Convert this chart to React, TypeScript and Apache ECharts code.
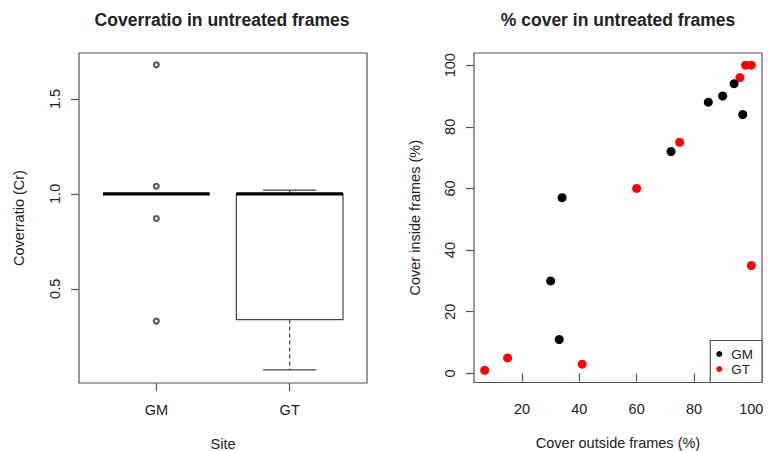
import React, { useEffect, useRef } from "react";
import * as echarts from "echarts";

// Boxplot panel (Coverratio)
const sites = ["GM", "GT"];
const sitePos = [1, 2];
const boxMin = [1.0, 0.073];
const boxQ1 = [1.0, 0.338];
const boxMedian = [1.0, 1.0];
const boxQ3 = [1.0, 1.0];
const boxMax = [1.0, 1.02];
const outlierSite = [1, 1, 1, 1];
const outlierValue = [1.68, 1.04, 0.87, 0.33];
const crTicks = [0.5, 1.0, 1.5];

// Scatter panel (% cover)
const gmOutside = [94, 85, 90, 97, 72, 34, 30, 33];
const gmInside = [94, 88, 90, 84, 72, 57, 30, 11];
const gtOutside = [98, 100, 96, 75, 60, 100, 15, 7, 41];
const gtInside = [100, 100, 96, 75, 60, 35, 5, 1, 3];
const outsideTicks = [20, 40, 60, 80, 100];
const insideTicks = [0, 20, 40, 60, 80, 100];

const FONT = "Liberation Sans, Arial, sans-serif";
const TXT = "#222";
const LINE = "#555";

export default function App() {
  const ref = useRef<HTMLDivElement>(null);
  useEffect(() => {
    if (!ref.current) return;
    const chart = echarts.init(ref.current, null, { renderer: "svg" });
    const axisLabelBase = { color: TXT, fontSize: 14.5, fontFamily: FONT };
    const nameBase = { color: TXT, fontSize: 14.5, fontFamily: FONT };
    const tick = { show: true, length: 8, inside: false, lineStyle: { color: LINE, width: 1.2 } };

    const option: any = {
      animation: false,
      backgroundColor: "#fff",
      textStyle: { fontFamily: FONT },
      title: [
        {
          text: "Coverratio in untreated frames",
          left: 222,
          textAlign: "center",
          top: 11,
          padding: 0,
          textStyle: { fontSize: 17.5, fontWeight: "bold", color: TXT, fontFamily: FONT },
        },
        {
          text: "% cover in untreated frames",
          left: 618,
          textAlign: "center",
          top: 11,
          padding: 0,
          textStyle: { fontSize: 17.5, fontWeight: "bold", color: TXT, fontFamily: FONT },
        },
      ],
      grid: [
        { left: 79, top: 53, width: 288, height: 330, outerBoundsMode: "none", containLabel: false, show: true, borderColor: LINE, borderWidth: 1.2, backgroundColor: "transparent" },
        { left: 474, top: 53, width: 288, height: 329.5, outerBoundsMode: "none", containLabel: false, show: true, borderColor: LINE, borderWidth: 1.2, backgroundColor: "transparent" },
      ],
      xAxis: [
        {
          type: "value",
          gridIndex: 0,
          min: 0.42,
          max: 2.58,
          name: "Site",
          nameLocation: "middle",
          nameGap: 53,
          nameTextStyle: nameBase,
          axisLine: { show: false },
          axisTick: { ...tick, customValues: sitePos },
          axisLabel: {
            ...axisLabelBase,
            margin: 19,
            customValues: sitePos,
            formatter: (v: number) => sites[sitePos.indexOf(v)] ?? "",
          },
          splitLine: { show: false },
        },
        {
          type: "value",
          gridIndex: 1,
          min: 3.28,
          max: 103.72,
          name: "Cover outside frames (%)",
          nameLocation: "middle",
          nameGap: 53,
          nameTextStyle: nameBase,
          axisLine: { show: false },
          axisTick: { ...tick, customValues: outsideTicks },
          axisLabel: { ...axisLabelBase, margin: 19, customValues: outsideTicks },
          splitLine: { show: false },
        },
      ],
      yAxis: [
        {
          type: "value",
          gridIndex: 0,
          min: 0.004,
          max: 1.742,
          name: "Coverratio (Cr)",
          nameLocation: "middle",
          nameRotate: 90,
          nameGap: 53,
          nameTextStyle: nameBase,
          axisLine: { show: false },
          axisTick: { ...tick, customValues: crTicks },
          axisLabel: {
            ...axisLabelBase,
            rotate: 90,
            margin: 17,
            customValues: crTicks,
            formatter: (v: number) => v.toFixed(1),
          },
          splitLine: { show: false },
        },
        {
          type: "value",
          gridIndex: 1,
          min: -2.96,
          max: 103.96,
          name: "Cover inside frames (%)",
          nameLocation: "middle",
          nameRotate: 90,
          nameGap: 52,
          nameTextStyle: nameBase,
          axisLine: { show: false },
          axisTick: { ...tick, customValues: insideTicks },
          axisLabel: { ...axisLabelBase, rotate: 90, margin: 17, customValues: insideTicks },
          splitLine: { show: false },
        },
      ],
      legend: {
        data: [
          { name: "GM", itemStyle: { color: "#000" } },
          { name: "GT", itemStyle: { color: "#ff0000" } },
        ],
        orient: "vertical",
        right: 8,
        bottom: 68.5,
        icon: "circle",
        itemWidth: 14,
        itemHeight: 6,
        itemGap: 0,
        padding: [6, 9, 6, 6],
        borderColor: LINE,
        borderWidth: 1.2,
        backgroundColor: "#fff",
        textStyle: { fontSize: 13.5, color: TXT, fontFamily: FONT, lineHeight: 15 },
      },
      series: [
        {
          type: "custom",
          name: "Coverratio",
          xAxisIndex: 0,
          yAxisIndex: 0,
          data: sites.map((_, i) => [sitePos[i], boxMin[i], boxQ1[i], boxMedian[i], boxQ3[i], boxMax[i]]),
          encode: { x: 0, y: [1, 2, 3, 4, 5] },
          renderItem: (params: any, api: any) => {
            const x = api.value(0);
            const mn = api.value(1);
            const q1 = api.value(2);
            const md = api.value(3);
            const q3 = api.value(4);
            const mx = api.value(5);
            const hw = 0.4;
            const cw = 0.2;
            const c = (a: number, b: number) => api.coord([a, b]);
            const thin = { stroke: "#444", lineWidth: 1.2, fill: null };
            const dashed = { ...thin, lineDash: [4, 3] };
            const seg = (a: number[], b: number[], style: any) => ({
              type: "line",
              shape: { x1: a[0], y1: a[1], x2: b[0], y2: b[1] },
              style,
            });
            const tl = c(x - hw, q3);
            const br = c(x + hw, q1);
            return {
              type: "group",
              children: [
                seg(c(x, q1), c(x, mn), dashed),
                seg(c(x, q3), c(x, mx), dashed),
                seg(c(x - cw, mn), c(x + cw, mn), thin),
                seg(c(x - cw, mx), c(x + cw, mx), thin),
                {
                  type: "rect",
                  shape: { x: tl[0], y: tl[1], width: br[0] - tl[0], height: br[1] - tl[1] },
                  style: { fill: "#fff", stroke: "#444", lineWidth: 1.2 },
                },
                seg(c(x - hw, md), c(x + hw, md), { stroke: "#000", lineWidth: 3.2 }),
              ],
            };
          },
          z: 2,
        },
        {
          type: "scatter",
          name: "Outliers",
          xAxisIndex: 0,
          yAxisIndex: 0,
          data: outlierValue.map((v, i) => [outlierSite[i], v]),
          symbol: "emptyCircle",
          symbolSize: 5,
          itemStyle: { color: "#555", borderColor: "#555", borderWidth: 0.9, opacity: 1 },
          z: 3,
        },
        {
          type: "scatter",
          name: "GT",
          xAxisIndex: 1,
          yAxisIndex: 1,
          data: gtOutside.map((v, i) => [v, gtInside[i]]),
          symbol: "circle",
          symbolSize: 9,
          itemStyle: { color: "#ff0000", opacity: 1 },
          z: 2,
        },
        {
          type: "scatter",
          name: "GM",
          xAxisIndex: 1,
          yAxisIndex: 1,
          data: gmOutside.map((v, i) => [v, gmInside[i]]),
          symbol: "circle",
          symbolSize: 9,
          itemStyle: { color: "#000", opacity: 1 },
          z: 3,
        },
      ],
    };
    chart.setOption(option);
    return () => chart.dispose();
  }, []);
  return (
    <div
      ref={ref}
      style={{ position: "fixed", left: 0, top: 0, width: 770, height: 451, background: "#fff" }}
    />
  );
}
